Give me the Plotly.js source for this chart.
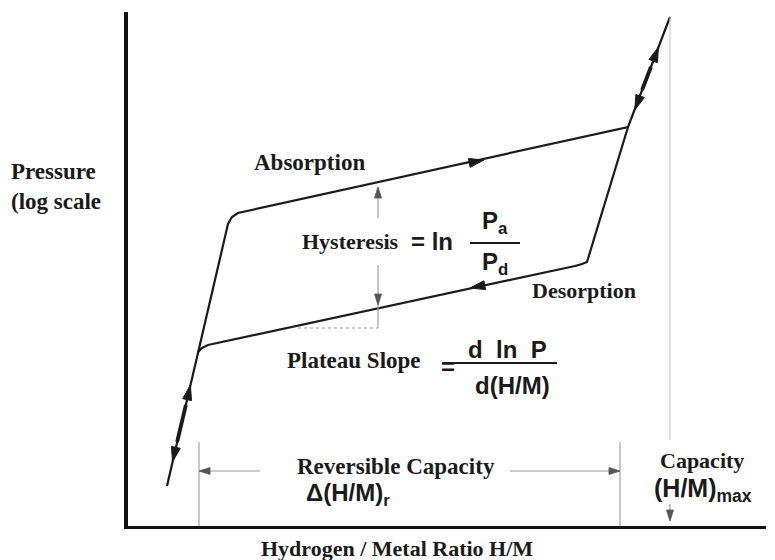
<!DOCTYPE html>
<html><head><meta charset="utf-8">
<script src="https://cdn.plot.ly/plotly-3.0.1.min.js"></script>
<style>html,body{margin:0;padding:0;background:#fff}#chart{width:775px;height:560px}</style>
</head><body><div id="chart"></div>
<script>
// Schematic PCT isotherm, diagram units (x: H/M ratio, y: log pressure, arbitrary)
const absorptionX = [39, 70, 100, 104, 110, 119, 500, 542];
const absorptionY = [40, 174, 302, 309, 313, 315, 399, 509];
const desorptionX = [500, 459, 454, 447, 80, 74, 70];
const desorptionY = [399, 264, 262, 260, 181, 178, 174];
// thick segments on the steep branches (between the paired arrows)
const lowSteepX = [57.9, 49.1];
const lowSteepY = [121, 84];
const highSteepX = [522.9, 514.1];
const highSteepY = [459, 436];
// black arrowheads on the curve: head / tail (direction)
const curveHeadX = [356, 342, 62.4, 44.5, 530.5, 506.8];
const curveHeadY = [366, 238, 141, 64, 479, 416];
const curveTailX = [334.5, 364, 57.9, 49.1, 522.9, 514.4];
const curveTailY = [361.7, 242.2, 121, 84, 459, 436];
// grey guide arrows: hysteresis (up, down), reversible capacity (left, right), max capacity (down)
const guideHeadX = [250, 250, 71, 492, 542];
const guideHeadY = [339, 221, 55, 55, 5];
const guideTailX = [250, 250, 132, 382, 542];
const guideTailY = [308, 261, 55, 55, 22];
// grey guide lines
const hystExtX = [250, 250];
const hystExtY = [221, 198];
const hystDotX = [170, 250];
const hystDotY = [198, 198];
const revCapX = [71, 71, null, 492, 492];
const revCapY = [0, 84, null, 0, 84];
const maxCapX = [542, 542];
const maxCapY = [509, 86];
// fraction bars
const barHystX = [342, 392];
const barHystY = [283, 283];
const barSlopeX = [315, 429];
const barSlopeY = [163, 163];

const SERIF = 'Liberation Serif, Times New Roman, serif';
const SANS = 'Liberation Sans, Arial, sans-serif';
const INK = '#1a1a1a';
const GREY = '#9a9a9a';

// arrowhead polygons built from head/tail arrays (1 unit ~ 1 px on both axes)
function heads(hx, hy, tx, ty, len, wid) {
  const X = [], Y = [];
  hx.forEach((x, i) => {
    const dx = x - tx[i], dy = hy[i] - ty[i];
    const d = Math.hypot(dx, dy), ux = dx / d, uy = dy / d;
    const bx = x - len * ux, by = hy[i] - len * uy;
    X.push(x, bx - uy * wid / 2, bx + uy * wid / 2, x, null);
    Y.push(hy[i], by + ux * wid / 2, by - ux * wid / 2, hy[i], null);
  });
  return {X, Y};
}
function stems(hx, hy, tx, ty) {
  const X = [], Y = [];
  hx.forEach((x, i) => { X.push(tx[i], x, null); Y.push(ty[i], hy[i], null); });
  return {X, Y};
}
const blackHeads = heads(curveHeadX, curveHeadY, curveTailX, curveTailY, 15, 9);
const greyHeads = heads(guideHeadX, guideHeadY, guideTailX, guideTailY, 11, 7);
const greyStems = stems(guideHeadX, guideHeadY, guideTailX, guideTailY);

const line = (x, y, color, width, dash) => ({x, y, mode: 'lines', line: {color, width, dash: dash || 'solid'},
  hoverinfo: 'skip', connectgaps: false});

const traces = [
  Object.assign(line(absorptionX, absorptionY, INK, 2.2), {name: 'Absorption'}),
  Object.assign(line(desorptionX, desorptionY, INK, 2.2), {name: 'Desorption'}),
  line(lowSteepX, lowSteepY, INK, 3.8),
  line(highSteepX, highSteepY, INK, 3.8),
  line(greyStems.X, greyStems.Y, GREY, 1.1),
  line(hystExtX, hystExtY, GREY, 1.1),
  line(hystDotX, hystDotY, '#b8b8b8', 1.3, 'dot'),
  line(revCapX, revCapY, GREY, 1.1),
  line(maxCapX, maxCapY, '#c8c8c8', 1.1),
  line(barHystX, barHystY, INK, 2.2),
  line(barSlopeX, barSlopeY, INK, 2.2),
  {x: blackHeads.X, y: blackHeads.Y, mode: 'lines', fill: 'toself', fillcolor: INK,
   line: {color: INK, width: 1}, hoverinfo: 'skip'},
  {x: greyHeads.X, y: greyHeads.Y, mode: 'lines', fill: 'toself', fillcolor: '#555555',
   line: {color: '#555555', width: 0.8}, hoverinfo: 'skip'}
];

function label(text, x, y, family, size, extra) {
  return Object.assign({text: text, x: x, y: y, xref: 'x', yref: 'y', showarrow: false,
    xanchor: 'center', yanchor: 'middle', font: {family: family, size: size, color: INK}}, extra || {});
}
const annotations = [
  label('<b>Absorption</b>', 181, 364, SERIF, 23),
  label('<b>Hysteresis</b>', 222, 285, SERIF, 22),
  label('<b>= ln</b>', 304, 285, SANS, 24),
  label('<b>P<sub>a</sub></b>', 367, 304, SANS, 24),
  label('<b>P<sub>d</sub></b>', 367, 263, SANS, 24),
  label('<b>Desorption</b>', 456, 236, SERIF, 22),
  label('<b>Plateau Slope</b>', 226, 166, SERIF, 23),
  label('<b>=</b>', 320, 160, SANS, 24),
  label('<b>d  ln  P</b>', 379, 177, SANS, 24),
  label('<b>d(H/M)</b>', 384, 141, SANS, 24),
  label('<b>Reversible Capacity</b>', 268, 60, SERIF, 23),
  label('<b>\u0394(H/M)<sub>r</sub></b>', 220, 32, SANS, 24),
  label('<b>Capacity</b>', 574, 66, SERIF, 22),
  label('<b>(H/M)<sub>max</sub></b>', 575, 36, SANS, 25),
  {text: '<b>Pressure</b><br><b>(log scale</b>', xref: 'paper', yref: 'paper', x: -0.187, y: 0.66,
   xanchor: 'left', yanchor: 'middle', align: 'left', showarrow: false,
   font: {family: SERIF, size: 23, color: INK}},
  {text: '<b>Hydrogen / Metal Ratio H/M</b>', xref: 'paper', yref: 'paper', x: 0.4216, y: -0.043,
   xanchor: 'center', yanchor: 'middle', showarrow: false,
   font: {family: SERIF, size: 22, color: INK}}
];

const layout = {
  width: 775, height: 560,
  margin: {l: 128, r: 9, t: 12, b: 34},
  paper_bgcolor: '#ffffff', plot_bgcolor: '#ffffff',
  showlegend: false,
  xaxis: {range: [0, 638], showgrid: false, zeroline: false, showticklabels: false, ticks: '',
          showline: true, linecolor: '#111', linewidth: 3, automargin: false},
  yaxis: {range: [0, 514], showgrid: false, zeroline: false, showticklabels: false, ticks: '',
          showline: true, linecolor: '#111', linewidth: 4, automargin: false},
  annotations: annotations
};

Plotly.newPlot('chart', traces, layout, {displayModeBar: false, staticPlot: true});
</script>
</body></html>
